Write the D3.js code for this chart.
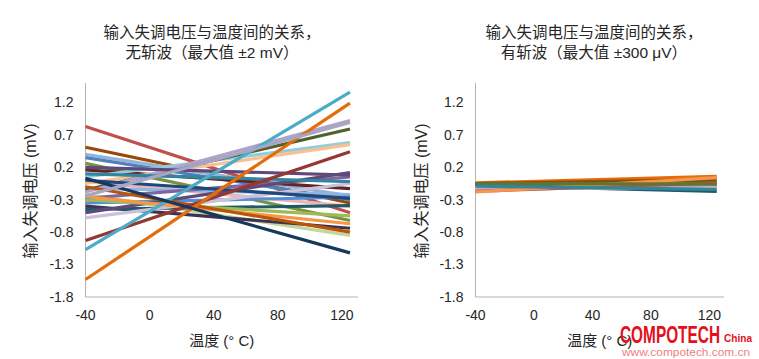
<!DOCTYPE html>
<html>
<head>
<meta charset="utf-8">
<script src="https://cdn.jsdelivr.net/npm/d3@7"></script>
<style>
  html, body { margin: 0; padding: 0; background: #fff; }
  svg { display: block; }
  text { font-family: "Liberation Sans", Arial, "Noto Sans CJK SC", sans-serif; fill: #262626; }
  .cjk { font-family: "Liberation Sans", "Noto Sans CJK SC", sans-serif; }
</style>
</head>
<body>
<svg id="chart" width="759" height="359"></svg>
<script>
// ---- data ----
const temps = [-40, 125];
const xTicks = [-40, 0, 40, 80, 120];
const yTicks = [-1.8, -1.3, -0.8, -0.3, 0.2, 0.7, 1.2];

const leftTitle = ["输入失调电压与温度间的关系，", "无斩波（最大值 ±2 mV）"];
const rightTitle = ["输入失调电压与温度间的关系，", "有斩波（最大值 ±300 μV）"];
const yTitle = "输入失调电压 (mV)";
const xTitle = "温度 (° C)";

// without chopping: value at -40 °C and at 125 °C
const leftStart = [0.83, 0.51, 0.40, 0.35, 0.26, 0.16, 0.05, -0.02, -0.05, -0.12, -0.15, -0.18, -0.22, -0.28, -0.35, -0.40, -0.45, -0.50, -0.58, -0.30, -0.25, 0.10, -0.10, 0.00, 0.20, -0.93, -1.07, -1.53, 0.03, -0.24];
const leftEnd   = [-0.50, -0.35, -0.24, -0.30, -0.62, -0.13, 0.58, -0.40, 0.55, -0.22, 0.79, 0.92, -0.85, 0.05, -0.26, -0.74, -0.39, 0.12, -0.05, -0.55, -0.67, -0.02, -0.80, -0.28, 0.08, 0.44, 1.36, 1.19, -1.12, 0.89];
const leftColors = ["#c0504d", "#984807", "#95b3d7", "#4f81bd", "#77933c", "#632523", "#93cddd", "#e6b9b8", "#fac090", "#8eb4e3", "#4f6228", "#b3a2c7", "#c3d69b", "#8064a2", "#558ed5", "#403151", "#215968", "#60497a", "#ccc1da", "#9bbb59", "#f79646", "#31859c", "#b65708", "#1f497d", "#5f497a", "#953735", "#4bacc6", "#e46c0a", "#17375e", "#a6a6c8"];

// with chopping
const rightStart = [-0.04, -0.05, -0.06, -0.07, -0.08, -0.10, -0.11, -0.12, -0.13, -0.15, -0.17, -0.18, -0.05, -0.09];
const rightEnd   = [0.06, 0.01, -0.03, -0.05, -0.17, -0.08, -0.11, -0.12, -0.10, -0.07, -0.04, 0.04, -0.06, -0.14];
const rightColors = ["#e46c0a", "#984807", "#4f6228", "#77933c", "#215968", "#1f497d", "#93cddd", "#fac090", "#e6b9b8", "#b3a2c7", "#c0504d", "#f79646", "#5f7530", "#31859c"];

// ---- drawing ----
const svg = d3.select("#chart");

function panel(cfg) {
  const x = d3.scaleLinear().domain([-40, 130]).range([cfg.x0, cfg.x1]);
  const y = d3.scaleLinear().domain([-1.8, 1.5]).range([297, 83]);
  const g = svg.append("g");

  g.append("line").attr("x1", cfg.x0).attr("x2", cfg.x0).attr("y1", y(1.5)).attr("y2", y(-1.8))
    .attr("stroke", "#b3b3b3").attr("stroke-width", 1);
  g.append("line").attr("x1", cfg.x0).attr("x2", cfg.x1).attr("y1", y(-1.8)).attr("y2", y(-1.8))
    .attr("stroke", "#b3b3b3").attr("stroke-width", 1);

  g.selectAll(".yl").data(yTicks).enter().append("text")
    .attr("x", cfg.x0 - 12).attr("y", d => y(d)).attr("dy", "0.35em")
    .attr("text-anchor", "end").attr("font-size", 14)
    .text(d => d3.format(".1f")(d).replace("−", "-"));

  g.selectAll(".xl").data(xTicks).enter().append("text")
    .attr("x", d => x(d)).attr("y", 320)
    .attr("text-anchor", "middle").attr("font-size", 14)
    .text(d => d);

  const line = d3.line().x(d => x(d[0])).y(d => y(d[1]));
  cfg.start.forEach((s, i) => {
    const pts = [[temps[0], s], [temps[1], cfg.end[i]]];
    g.append("path").attr("d", line(pts)).attr("fill", "none")
      .attr("stroke", cfg.colors[i]).attr("stroke-width", 3.2);
  });

  cfg.title.forEach((t, i) => {
    g.append("text").attr("class", "cjk").attr("x", cfg.tx).attr("y", 38 + i * 20)
      .attr("text-anchor", "middle").attr("font-size", 15.5).text(t);
  });
  g.append("text").attr("class", "cjk")
    .attr("transform", `translate(${cfg.yx},191) rotate(-90)`)
    .attr("text-anchor", "middle").attr("dy", "0.35em").attr("font-size", 16).text(yTitle);
  g.append("text").attr("class", "cjk").attr("x", (cfg.x0 + cfg.x1) / 2).attr("y", 346)
    .attr("text-anchor", "middle").attr("font-size", 15).text(xTitle);
}

panel({ x0: 85.5, x1: 358, start: leftStart, end: leftEnd, colors: leftColors, title: leftTitle, tx: 212, yx: 30 });
panel({ x0: 475.5, x1: 724, start: rightStart, end: rightEnd, colors: rightColors, title: rightTitle, tx: 594, yx: 421 });

// watermark
const wm = svg.append("g");
wm.append("text").attr("x", 620).attr("y", 343).attr("font-size", 23).attr("font-weight", "bold")
  .attr("textLength", 100).attr("lengthAdjust", "spacingAndGlyphs")
  .style("font-family", "'Liberation Sans Narrow', 'Liberation Sans', sans-serif").style("fill", "#e3101a")
  .text("COMPOTECH");
wm.append("text").attr("x", 724).attr("y", 342).attr("font-size", 11).attr("font-weight", "bold")
  .attr("textLength", 28).attr("lengthAdjust", "spacingAndGlyphs")
  .style("fill", "#e3101a").text("China");
wm.append("text").attr("x", 622).attr("y", 356).attr("font-size", 10.5)
  .attr("textLength", 128).attr("lengthAdjust", "spacingAndGlyphs")
  .style("fill", "#f08080").text("www.compotech.com.cn");
</script>
</body>
</html>
